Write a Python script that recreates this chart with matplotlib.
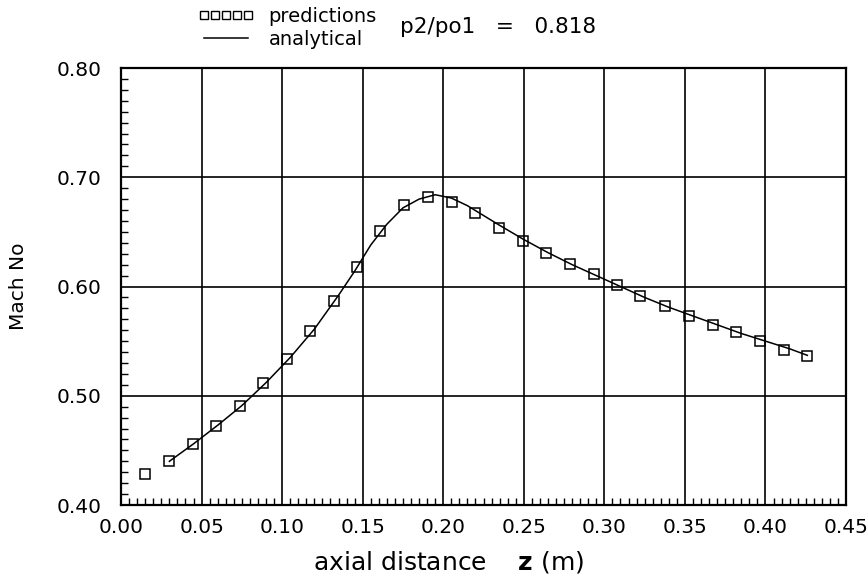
import matplotlib.pyplot as plt
from matplotlib.lines import Line2D
from matplotlib.ticker import MultipleLocator

# predictions (squares)
z_pred = [0.0149, 0.0298, 0.0447, 0.0590, 0.0739, 0.0884, 0.1031, 0.1176,
          0.1319, 0.1466, 0.1610, 0.1757, 0.1906, 0.2053, 0.2200, 0.2348,
          0.2494, 0.2640, 0.2788, 0.2933, 0.3080, 0.3223, 0.3378, 0.3523,
          0.3674, 0.3819, 0.3968, 0.4113, 0.4258]
mach_pred = [0.428, 0.440, 0.456, 0.472, 0.491, 0.512, 0.534, 0.559,
             0.587, 0.618, 0.651, 0.675, 0.682, 0.677, 0.667, 0.654,
             0.642, 0.631, 0.621, 0.611, 0.601, 0.591, 0.582, 0.573,
             0.565, 0.558, 0.550, 0.542, 0.536]

# analytical solution (line)
z_an = [0.030, 0.045, 0.060, 0.075, 0.090, 0.105, 0.120, 0.135, 0.145,
        0.155, 0.165, 0.175, 0.185, 0.195, 0.205, 0.215, 0.225, 0.235,
        0.250, 0.265, 0.280, 0.295, 0.310, 0.325, 0.340, 0.355, 0.370,
        0.385, 0.400, 0.415, 0.426]
mach_an = [0.440, 0.456, 0.473, 0.491, 0.512, 0.535, 0.561, 0.592, 0.614,
           0.638, 0.657, 0.672, 0.680, 0.684, 0.681, 0.674, 0.665, 0.656,
           0.643, 0.631, 0.620, 0.610, 0.600, 0.590, 0.581, 0.573, 0.565,
           0.557, 0.550, 0.543, 0.537]

fig = plt.figure(figsize=(8.67, 5.74), dpi=100)
ax = fig.add_axes([0.1396, 0.1202, 0.8362, 0.7613])

ax.plot(z_an, mach_an, color='black', lw=1.1, zorder=3)
ax.plot(z_pred, mach_pred, ls='none', marker='s', ms=6.8, mfc='none',
        mec='black', mew=1.1, zorder=4)

ax.set_xlim(0.0, 0.45)
ax.set_ylim(0.40, 0.80)
ax.xaxis.set_major_locator(MultipleLocator(0.05))
ax.yaxis.set_major_locator(MultipleLocator(0.10))
ax.xaxis.set_minor_locator(MultipleLocator(0.005))
ax.yaxis.set_minor_locator(MultipleLocator(0.01))
ax.set_xticklabels([f'{v:.2f}' for v in ax.get_xticks()])
ax.set_yticklabels([f'{v:.2f}' for v in ax.get_yticks()])
ax.tick_params(which='major', length=0, labelsize=14.5)
ax.tick_params(axis='x', which='major', pad=9)
ax.tick_params(axis='y', which='major', pad=14)
ax.tick_params(which='minor', direction='in', length=5, width=1.0,
               top=False, right=False)
ax.grid(True, which='major', color='black', lw=1.2)
for s in ax.spines.values():
    s.set_linewidth(1.6)

ax.set_ylabel('Mach No', fontsize=14.5)
ax.yaxis.set_label_coords(-0.128, 0.5)
ax.set_xlabel(r'axial distance    $\mathbf{z}$ (m)', fontsize=18)
ax.xaxis.set_label_coords(0.452, -0.1)

handles = [Line2D([], [], ls='none', marker='s', ms=6.2, mfc='none',
                  mec='black', mew=1.0),
           Line2D([], [], color='black', lw=1.1)]
fig.legend(handles, ['predictions', 'analytical'], numpoints=5,
           loc='center left', bbox_to_anchor=(0.228, 0.951), frameon=False,
           fontsize=14, handlelength=2.9, handletextpad=0.75,
           labelspacing=0.2, borderpad=0.0, borderaxespad=0.0)
fig.text(0.461, 0.953, 'p2/po1   =   0.818', fontsize=15.5, va='center')

fig.savefig('out.png', dpi=100)
